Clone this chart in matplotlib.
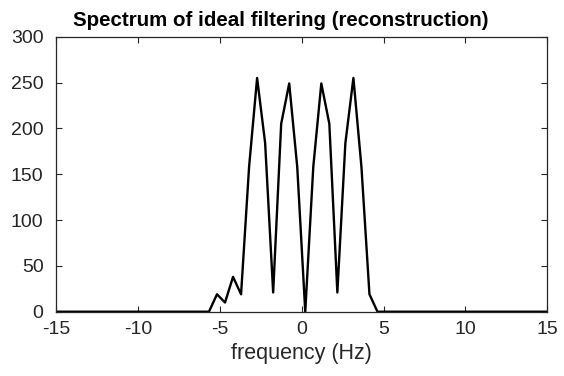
import matplotlib.pyplot as plt

plt.rcParams['font.family'] = ['Liberation Sans', 'DejaVu Sans']
plt.rcParams['axes.unicode_minus'] = False

# spectrum samples (Hz, magnitude)
freq = [-15, -5.66, -5.17, -4.68, -4.19, -3.70, -3.21, -2.72, -2.23, -1.74,
        -1.25, -0.76, -0.27, 0.22, 0.71, 1.20, 1.69, 2.18, 2.67, 3.16,
        3.65, 4.14, 4.63, 15]
mag = [0, 0, 19, 10, 38, 19, 158, 255, 184, 21,
       205, 249, 158, 0, 158, 249, 205, 21, 184, 255,
       158, 19, 0, 0]

xticks = [-15, -10, -5, 0, 5, 10, 15]
yticks = [0, 50, 100, 150, 200, 250, 300]

fig = plt.figure(figsize=(5.64, 3.76), dpi=100)
ax = fig.add_axes([0.0993, 0.171, 0.8711, 0.7314])
ax.plot(freq, mag, color='black', linewidth=1.7)

ax.set_xlim(-15, 15)
ax.set_ylim(0, 300)
ax.set_xticks(xticks)
ax.set_yticks(yticks)
ax.tick_params(direction='in', top=True, right=True, length=4, width=0.8,
               labelsize=14, colors='#262626')
ax.tick_params(axis='x', pad=7)
ax.tick_params(axis='y', pad=9)
for s in ax.spines.values():
    s.set_color('#262626')
    s.set_linewidth(0.9)

ax.set_title('Spectrum of ideal filtering (reconstruction)', fontsize=14.8,
             fontweight='bold', pad=8, x=0.458)
ax.set_xlabel('frequency (Hz)', fontsize=15.5, color='#262626', labelpad=3)

fig.savefig('out.png', dpi=100)
